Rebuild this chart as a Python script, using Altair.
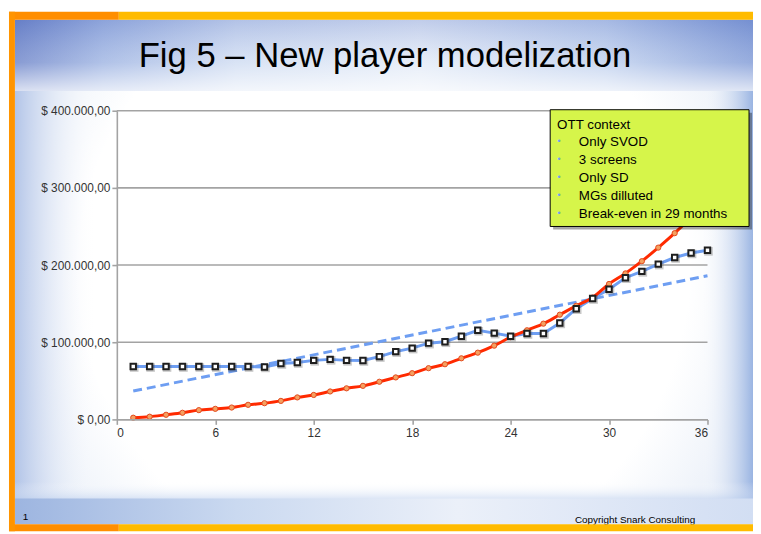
import altair as alt
import pandas as pd

# ---------------- data ----------------
months = list(range(1, 37))
revenue = [2200, 3500, 6000, 8600, 12000, 13700, 15400, 18900, 21000, 24000,
           28500, 31700, 36200, 40300, 43500, 48800, 54400, 59900, 66400, 71500,
           79200, 86500, 95600, 106600, 115500, 124100, 135700, 147200, 157900, 175500,
           189200, 205000, 222600, 241300, 262000, 285000]
costs = [68500, 68500, 68500, 68500, 68500, 68500, 68500, 68500, 68000, 72400,
         73700, 76500, 77800, 76500, 76300, 81400, 87800, 92400, 98800, 100600,
         107800, 115500, 111800, 107800, 111300, 111300, 125000, 143400, 156600, 168700,
         183600, 191800, 201200, 209800, 215700, 219100]
x_ticks = [0, 6, 12, 18, 24, 30, 36]
y_ticks = [0, 100000, 200000, 300000, 400000]
grid_values = [100000, 200000, 300000, 400000]
title_text = "Fig 5 \u2013 New player modelization"
box_title = "OTT context"
box_items = ["Only SVOD", "3 screens", "Only SD", "MGs dilluted", "Break-even in 29 months"]
page_number = "1"
copyright_text = "Copyright Snark Consulting"

df = pd.DataFrame({"month": months, "revenue": revenue, "costs": costs})
grid_df = pd.DataFrame({"month": [0] * len(grid_values), "costs": grid_values})
one = pd.DataFrame({"k": [0]})

FONT = "Liberation Sans"
W, H = 597, 312

x_scale = alt.Scale(domain=[0, 36], nice=False, zero=False)
y_scale = alt.Scale(domain=[0, 400000], nice=False)

label_expr = ("'$ ' + replace(replace(replace(format(datum.value, ',.2f'), ',', '#'), '.', ','), '#', '.')")
x_axis = alt.Axis(values=x_ticks, title=None, grid=False, zindex=1,
                  domainColor="#A3A3A3", domainWidth=1.6, tickColor="#A3A3A3",
                  tickWidth=1.6, tickSize=5, labelFont=FONT, labelFontSize=12,
                  labelColor="#333333", labelPadding=3)
y_axis = alt.Axis(values=y_ticks, title=None, grid=False, zindex=1, labelExpr=label_expr,
                  domainColor="#A3A3A3", domainWidth=1.6, tickColor="#A3A3A3",
                  tickWidth=1.6, tickSize=5, labelFont=FONT, labelFontSize=12,
                  labelColor="#333333", labelPadding=2)


def X(field):
    return alt.X(field + ":Q", scale=x_scale, axis=x_axis, title=None)


def Y(field):
    return alt.Y(field + ":Q", scale=y_scale, axis=y_axis, title=None)


def stops(pairs):
    return [alt.GradientStop(offset=o, color=c) for o, c in pairs]


def rect(x, x2, y, y2, **kw):
    return alt.Chart(one).mark_rect(**kw).encode(
        x=alt.value(x), x2=alt.value(x2), y=alt.value(y), y2=alt.value(y2))


def text(x, y, t, **kw):
    return alt.Chart(one).mark_text(text=t, font=FONT, **kw).encode(
        x=alt.value(x), y=alt.value(y))


# ---------------- slide decoration ----------------
slide_bg = rect(-103, 643, -92, 418, fill=alt.RadialGradient(
    gradient="radial", x1=0.5, y1=0.5, r1=0, x2=0.5, y2=0.5, r2=0.75,
    stops=stops([(0, "#FFFFFF"), (0.55, "#FFFFFF"), (0.8, "#E2EAF6"), (1, "#B3C6E8")])))
left_edge = rect(-103, -20, -20, 395, fill=alt.LinearGradient(
    gradient="linear", x1=0, y1=0, x2=1, y2=0,
    stops=stops([(0, "rgba(160,182,226,0.75)"), (1, "rgba(255,255,255,0)")])))
right_edge = rect(590, 643, -20, 395, fill=alt.LinearGradient(
    gradient="linear", x1=0, y1=0, x2=1, y2=0,
    stops=stops([(0, "rgba(255,255,255,0)"), (1, "rgba(140,170,222,0.85)")])))
title_band = rect(-103, 643, -92, -20, fill=alt.LinearGradient(
    gradient="linear", x1=0, y1=0, x2=1, y2=0,
    stops=stops([(0, "#6A82C8"), (0.12, "#9DB3E2"), (0.3, "#CFDCF2"), (0.55, "#E2EAF7"),
                 (0.8, "#BFD0EE"), (1, "#7E99D6")])))
title_fade = rect(-103, 643, -92, -20, fill=alt.LinearGradient(
    gradient="linear", x1=0, y1=0, x2=0, y2=1,
    stops=stops([(0, "rgba(90,115,195,0.25)"), (0.6, "rgba(255,255,255,0.2)"),
                 (1, "rgba(255,255,255,0.75)")])))
bottom_band = rect(-103, 643, 392, 418, fill=alt.LinearGradient(
    gradient="linear", x1=0, y1=0, x2=1, y2=0,
    stops=stops([(0, "#9DB5E0"), (0.3, "#CAD9F0"), (0.6, "#EBF0F9"), (1, "#D2DEF3")])))
bottom_fade = rect(-103, 643, 375, 393, fill=alt.LinearGradient(
    gradient="linear", x1=0, y1=0, x2=0, y2=1,
    stops=stops([(0, "rgba(255,255,255,0)"), (1, "rgba(190,208,238,0.6)")])))

top_bar_o = rect(-109, 2, -100, -92, fill="#FF8E00")
top_bar_y = rect(2, 643, -100, -92, fill="#FFBB00")
bot_bar_o = rect(-109, 2, 418, 425, fill="#FF8E00")
bot_bar_y = rect(2, 643, 418, 425, fill="#FFBB00")
left_bar = rect(-109, -103, -100, 425, fill="#FF9400")

title = text(271, -44, title_text, fontSize=35, color="#000000", align="center", baseline="alphabetic")
page_no = text(-95, 414, page_number, fontSize=10, color="#000000", align="left", baseline="alphabetic")
copyright_t = text(463, 416.5, copyright_text, fontSize=10, color="#000000", align="left",
                   baseline="alphabetic")

# ---------------- chart ----------------
grid = alt.Chart(grid_df).mark_rule(color="#A3A3A3", strokeWidth=1.6).encode(y=Y("costs"))

base = alt.Chart(df)

trend = base.transform_regression("month", "costs", method="linear").mark_line(
    color="#6E9EF2", strokeWidth=3, strokeDash=[9, 5]).encode(x=X("month"), y=Y("costs"))

costs_line = base.mark_line(color="#6E9EF2", strokeWidth=3).encode(x=X("month"), y=Y("costs"))

rev_line = base.mark_line(color="#FF2A00", strokeWidth=3, interpolate="monotone").encode(
    x=X("month"), y=Y("revenue"))

rev_pts = base.mark_point(shape="circle", filled=True, fill="#F5A060", stroke="#E24A1E",
                          strokeWidth=1, size=28, opacity=1).encode(x=X("month"), y=Y("revenue"))

costs_shadow = base.mark_point(shape="square", filled=True, fill="#444444", size=75,
                               opacity=0.3, xOffset=1, yOffset=1).encode(x=X("month"), y=Y("costs"))

costs_pts = base.mark_point(shape="square", filled=True, fill="#FFFFFF", stroke="#1E1E1E",
                            strokeWidth=2, size=30, opacity=1).encode(x=X("month"), y=Y("costs"))

# ---------------- annotation box ----------------
box_shadow = rect(441, 642, 2, 120, fill="#000000", opacity=0.35)
box = rect(438, 639, -1, 117, fill="#D6F54A", stroke="#000000", strokeWidth=1)
box_head = text(445, 18, box_title, fontSize=13.5, color="#000000", align="left", baseline="alphabetic")
box_body = text(467, 36, box_items, fontSize=13.5, lineHeight=18.2, color="#000000",
                align="left", baseline="alphabetic")
bullets = [u"\u2022" for _ in box_items]
box_bullets = text(447, 33.5, bullets, fontSize=9, lineHeight=18.2, color="#6E9EF2",
                   align="center", baseline="alphabetic")

chart = alt.layer(
    slide_bg, left_edge, right_edge, title_band, title_fade, bottom_fade, bottom_band,
    title, page_no, copyright_t,
    top_bar_o, top_bar_y, bot_bar_o, bot_bar_y, left_bar,
    grid, trend, costs_line, rev_line, rev_pts, costs_shadow, costs_pts,
    box_shadow, box, box_head, box_body, box_bullets,
).resolve_scale(x="shared", y="shared").properties(
    width=W, height=H,
    padding={"left": 110, "top": 101, "right": 46, "bottom": 113},
    autosize=alt.AutoSizeParams(type="none"),
).configure_view(stroke=None).configure(background="#FFFFFF")

chart.save("out.html", embed_options={"renderer": "svg", "actions": False})
